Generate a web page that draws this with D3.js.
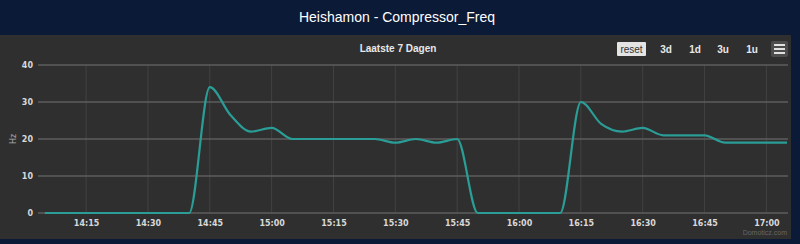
<!DOCTYPE html>
<html>
<head>
<meta charset="utf-8">
<script src="https://cdn.jsdelivr.net/npm/d3@7"></script>
<style>
  body { margin: 0; background: #0b1a36; overflow: hidden; }
  svg { display: block; }
</style>
</head>
<body>
<script>
// compressor frequency, one sample per 5 minutes, starting 14:05
var startTime = "14:05";
var stepMinutes = 5;
var freqValues = [0, 0, 0, 0, 0, 0, 0, 0, 34, 26.5, 22, 23, 20, 20, 20, 20, 20, 19, 20, 19, 20,
	0, 0, 0, 0, 0, 30, 24, 22, 23, 21, 21, 21, 19, 19, 19, 19];
var yTicks = [0, 10, 20, 30, 40];
var xTickLabels = ["14:15", "14:30", "14:45", "15:00", "15:15", "15:30", "15:45",
	"16:00", "16:15", "16:30", "16:45", "17:00"];
var rangeButtons = ["3d", "1d", "3u", "1u"];

var W = 800, H = 244;
var margin = {top: 65, right: 12, bottom: 31, left: 38};

function parseHM(s) {
	var p = s.split(":");
	return new Date(2024, 0, 1, +p[0], +p[1]);
}

var t0 = parseHM(startTime);
var data = freqValues.map(function(v, i) {
	return {t: new Date(t0.getTime() + i * stepMinutes * 60000), v: v};
});

var svg = d3.select("body").append("svg")
	.attr("width", W)
	.attr("height", H);

// title band
svg.append("text")
	.attr("x", 397).attr("y", 22)
	.attr("text-anchor", "middle")
	.attr("fill", "#ffffff")
	.style("font-family", "Liberation Sans, Arial, sans-serif")
	.style("font-size", "14px")
	.text("Heishamon - Compressor_Freq");

// chart panel
svg.append("rect")
	.attr("x", 0).attr("y", 35)
	.attr("width", 791).attr("height", 204)
	.attr("fill", "#2f2f2f");

svg.append("text")
	.attr("x", 398).attr("y", 52)
	.attr("text-anchor", "middle")
	.attr("fill", "#e8e8e8")
	.style("font-family", "Liberation Sans, Arial, sans-serif")
	.style("font-size", "10px")
	.style("font-weight", "bold")
	.text("Laatste 7 Dagen");

var x = d3.scaleTime()
	.domain([new Date(t0.getTime() - 100000), new Date(data[data.length - 1].t.getTime())])
	.range([margin.left, W - margin.right - 1]);

var y = d3.scaleLinear()
	.domain([0, 40])
	.range([H - margin.bottom, margin.top]);

var plot = svg.append("g");

// vertical grid
var xTickDates = xTickLabels.map(parseHM);
plot.selectAll(".vgrid")
	.data(xTickDates)
	.enter().append("line")
	.attr("x1", function(d) { return x(d); })
	.attr("x2", function(d) { return x(d); })
	.attr("y1", margin.top)
	.attr("y2", H - margin.bottom)
	.attr("stroke", "#424242")
	.attr("stroke-width", 1);

// horizontal grid
plot.selectAll(".hgrid")
	.data(yTicks)
	.enter().append("line")
	.attr("x1", margin.left)
	.attr("x2", W - margin.right)
	.attr("y1", function(d) { return y(d); })
	.attr("y2", function(d) { return y(d); })
	.attr("stroke", "#5e5e5e")
	.attr("stroke-width", 1.5);

// y axis
var yAxis = d3.axisLeft(y).tickValues(yTicks).tickSize(0).tickPadding(4);
var gy = svg.append("g")
	.attr("transform", "translate(" + (margin.left - 1) + ",0)")
	.call(yAxis);
gy.select(".domain").remove();
gy.selectAll("text")
	.attr("fill", "#d8d8d8")
	.style("font-family", "DejaVu Sans, sans-serif")
	.style("font-size", "8px")
	.style("font-weight", "bold");

svg.append("text")
	.attr("transform", "translate(16," + y(20) + ") rotate(-90)")
	.attr("text-anchor", "middle")
	.attr("fill", "#aaaaaa")
	.style("font-family", "DejaVu Sans, sans-serif")
	.style("font-size", "8px")
	.text("Hz");

// x axis
var xAxis = d3.axisBottom(x)
	.tickValues(xTickDates)
	.tickFormat(d3.timeFormat("%H:%M"))
	.tickSize(0)
	.tickPadding(7);
var gx = svg.append("g")
	.attr("transform", "translate(0," + (H - margin.bottom) + ")")
	.call(xAxis);
gx.select(".domain").remove();
gx.selectAll("text")
	.attr("fill", "#d8d8d8")
	.style("font-family", "DejaVu Sans, sans-serif")
	.style("font-size", "8px")
	.style("font-weight", "bold");

// series
var line = d3.line()
	.x(function(d) { return x(d.t); })
	.y(function(d) { return y(d.v); })
	.curve(d3.curveMonotoneX);

plot.append("path")
	.datum(data)
	.attr("d", line)
	.attr("fill", "none")
	.attr("stroke", "#2a9d96")
	.attr("stroke-width", 2.2);

// range buttons
var btn = svg.append("g").style("font-family", "Liberation Sans, Arial, sans-serif");
btn.append("rect")
	.attr("x", 617).attr("y", 42)
	.attr("width", 29).attr("height", 14)
	.attr("rx", 1)
	.attr("fill", "#e4e4e4");
btn.append("text")
	.attr("x", 631.5).attr("y", 53)
	.attr("text-anchor", "middle")
	.attr("fill", "#333")
	.style("font-size", "10px")
	.text("reset");

var btnX = [666, 695, 723, 752];
btn.selectAll(".rb")
	.data(rangeButtons)
	.enter().append("text")
	.attr("x", function(d, i) { return btnX[i]; })
	.attr("y", 53)
	.attr("text-anchor", "middle")
	.attr("fill", "#e8e8e8")
	.style("font-size", "10px")
	.style("font-weight", "bold")
	.text(function(d) { return d; });

// menu icon
btn.append("rect")
	.attr("x", 771).attr("y", 41)
	.attr("width", 17).attr("height", 16)
	.attr("rx", 2)
	.attr("fill", "#4c4c4c");
[45, 49, 53].forEach(function(yy) {
	btn.append("line")
		.attr("x1", 774).attr("x2", 785)
		.attr("y1", yy).attr("y2", yy)
		.attr("stroke", "#e0e0e0")
		.attr("stroke-width", 2);
});

// credit
svg.append("text")
	.attr("x", 787).attr("y", 235)
	.attr("text-anchor", "end")
	.attr("fill", "#666")
	.style("font-family", "Liberation Sans, Arial, sans-serif")
	.style("font-size", "7px")
	.text("Domoticz.com");
</script>
</body>
</html>
